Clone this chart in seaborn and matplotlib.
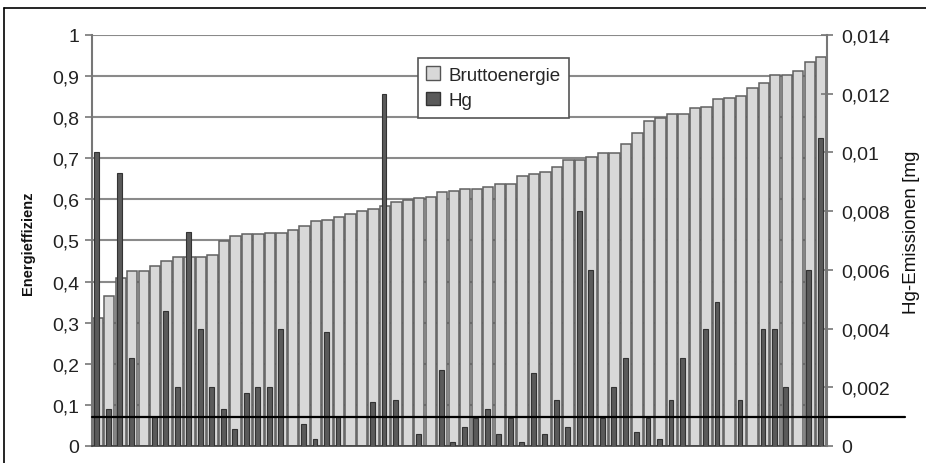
import matplotlib
matplotlib.use("Agg")
import matplotlib.pyplot as plt
import numpy as np
import pandas as pd
import seaborn as sns
from matplotlib.lines import Line2D
from matplotlib.patches import Patch
from matplotlib.ticker import FuncFormatter, MultipleLocator

# Bruttoenergie (left axis, sorted ascending)
energie = [0.311, 0.365, 0.409, 0.426, 0.426, 0.437, 0.449, 0.461, 0.461, 0.461, 0.464,
           0.498, 0.510, 0.515, 0.515, 0.519, 0.519, 0.525, 0.536, 0.548, 0.550, 0.558,
           0.564, 0.571, 0.576, 0.584, 0.593, 0.598, 0.603, 0.606, 0.619, 0.621, 0.625,
           0.625, 0.631, 0.637, 0.637, 0.657, 0.663, 0.666, 0.679, 0.696, 0.696, 0.702,
           0.714, 0.714, 0.735, 0.761, 0.790, 0.797, 0.808, 0.808, 0.823, 0.825,
           0.844, 0.846, 0.851, 0.872, 0.883, 0.903, 0.903, 0.912, 0.935, 0.947]

# Hg emissions in mg (right axis)
hg = [0.0100, 0.00127, 0.0093, 0.0030, 0.0, 0.0010, 0.0046, 0.0020, 0.0073, 0.0040, 0.0020,
      0.00125, 0.00057, 0.0018, 0.0020, 0.0020, 0.0040, 0.0, 0.00076, 0.00025, 0.0039, 0.0010,
      0.0, 0.0, 0.0015, 0.0120, 0.00157, 0.0, 0.0004, 0.0, 0.0026, 0.00014, 0.00065,
      0.00097, 0.00125, 0.0004, 0.00097, 0.00014, 0.0025, 0.0004, 0.00156, 0.00065, 0.0080, 0.0060,
      0.00097, 0.0020, 0.0030, 0.00048, 0.00097, 0.00025, 0.00157, 0.0030, 0.0, 0.0040,
      0.0049, 0.0, 0.00157, 0.0, 0.0040, 0.0040, 0.0020, 0.0, 0.0060, 0.0105]

hg_limit = 0.001
right_ticks = np.arange(0, 0.0141, 0.002)

n = len(energie)
idx = np.arange(n)
df = pd.DataFrame({"pos": idx, "hg_pos": idx - 0.08, "energie": energie, "hg": hg})

sns.set_theme(style="white")
plt.rcParams["font.family"] = ["Liberation Sans", "DejaVu Sans"]

light = "#d8d8d8"
dark = "#5a5a5a"
grid_c = "#8a8a8a"

fig = plt.figure(figsize=(9.26, 4.64), dpi=100)
ax = fig.add_axes([92 / 926, 1 - 447 / 464, 735 / 926, 411 / 464])

sns.barplot(data=df, x="pos", y="energie", native_scale=True, width=0.9,
            color=light, edgecolor="#606060", linewidth=1.1, saturation=1, ax=ax)
ax.set_xlim(-0.5, n - 0.5)
ax.set_ylim(0, 1)
ax.yaxis.set_major_locator(MultipleLocator(0.1))
ax.yaxis.grid(True, color=grid_c, linewidth=1.5)
ax.set_axisbelow(True)

ax2 = ax.twinx()
sns.barplot(data=df, x="hg_pos", y="hg", native_scale=True, width=0.42,
            color=dark, edgecolor="#333333", linewidth=0.8, saturation=1, ax=ax2)
ax2.set_xlim(-0.5, n - 0.5)
ax2.set_ylim(0, 0.014)
ax2.set_yticks(right_ticks)
ax2.axhline(hg_limit, xmin=0, xmax=1.106, color="black", linewidth=1.6, clip_on=False, zorder=5)

comma = FuncFormatter(lambda v, p: f"{v:g}".replace(".", ","))
ax.yaxis.set_major_formatter(comma)
ax2.yaxis.set_major_formatter(comma)

# x ticks at category boundaries, no labels
ax.set_xticks(np.arange(-0.5, n, 1.0))
ax.set_xticklabels([])
ax.tick_params(axis="x", bottom=True, direction="out", length=4, color="#555555", width=1)
ax.tick_params(axis="y", left=True, direction="out", length=5, color="#777777",
               width=1.2, labelsize=14, pad=4, labelcolor="#222222")
ax2.tick_params(axis="y", right=True, direction="inout", length=9, color="#777777",
                width=1.2, labelsize=14, pad=6, labelcolor="#222222")
ax2.set_xticks([])

for a in (ax, ax2):
    a.set_xlabel("")
    a.set_ylabel("")
    for s in a.spines.values():
        s.set_visible(False)
ax.spines["left"].set_visible(True)
ax.spines["left"].set_color("#777777")
ax.spines["left"].set_linewidth(1.5)
ax.spines["bottom"].set_visible(True)
ax.spines["bottom"].set_color("#444444")
ax2.spines["right"].set_visible(True)
ax2.spines["right"].set_color("#777777")
ax2.spines["right"].set_linewidth(1.5)

fig.text(28 / 926, 1 - 243 / 464, "Energieffizienz", rotation=90, ha="center",
         va="center", fontsize=10.5, fontweight="bold", color="#111111")
fig.text(912 / 926, 1 - 232 / 464, "Hg-Emissionen [mg", rotation=90, ha="center",
         va="center", fontsize=13.5, color="#111111")

handles = [Patch(facecolor=light, edgecolor="#555555", label="Bruttoenergie"),
           Patch(facecolor=dark, edgecolor="#333333", label="Hg")]
leg = ax2.legend(handles=handles, loc="upper left",
                 bbox_to_anchor=(418 / 926, 1 - 59 / 464), bbox_transform=fig.transFigure,
                 fontsize=13.5, frameon=True, fancybox=False, framealpha=1,
                 edgecolor="#555555", handlelength=0.7, handleheight=0.7,
                 handletextpad=0.45, borderpad=0.45, labelspacing=0.45, borderaxespad=0)
leg.get_frame().set_linewidth(1.2)
leg.set_zorder(10)

# outer frame of the picture
fig.add_artist(Line2D([4 / 926, 1], [1 - 9 / 464, 1 - 9 / 464], color="black", linewidth=1.2,
                      transform=fig.transFigure))
fig.add_artist(Line2D([4 / 926, 4 / 926], [0, 1 - 9 / 464], color="black", linewidth=1.2,
                      transform=fig.transFigure))

fig.savefig("out.png", dpi=100)
